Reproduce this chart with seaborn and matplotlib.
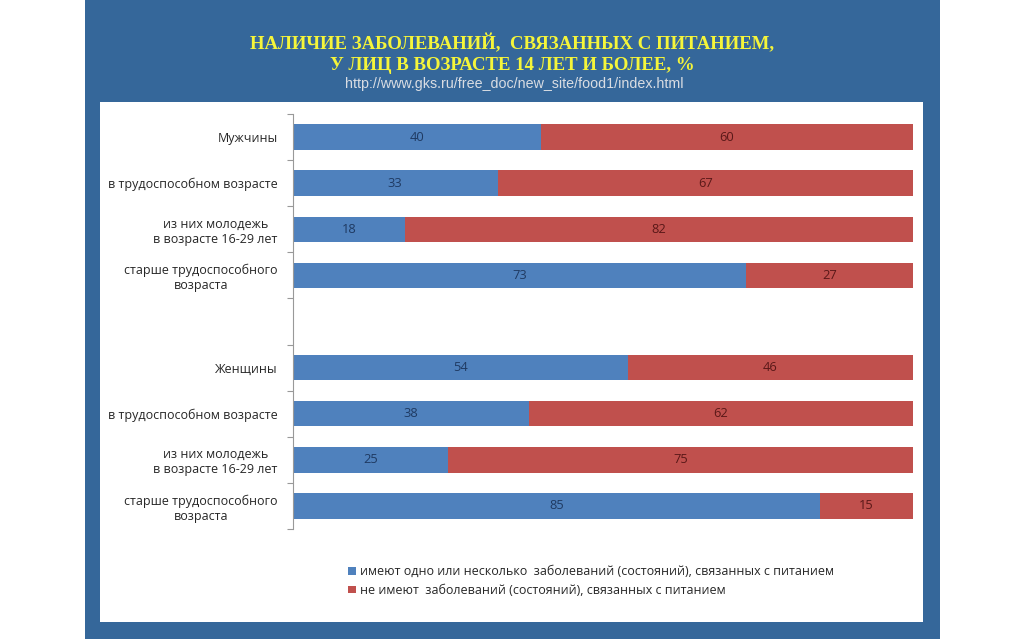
import numpy as np
import pandas as pd
import matplotlib.pyplot as plt
from matplotlib.patches import Rectangle, Patch
import seaborn as sns

# data
labels = ["Мужчины", "в трудоспособном возрасте", "из них молодежь\nв возрасте 16-29 лет",
          "старше трудоспособного\nвозраста", "",
          "Женщины", "в трудоспособном возрасте", "из них молодежь\nв возрасте 16-29 лет",
          "старше трудоспособного\nвозраста"]
have = [40, 33, 18, 73, np.nan, 54, 38, 25, 85]
have_not = [60, 67, 82, 27, np.nan, 46, 62, 75, 15]
legend_labels = ["имеют одно или несколько  заболеваний (состояний), связанных с питанием",
                 "не имеют  заболеваний (состояний), связанных с питанием"]
title = "НАЛИЧИЕ ЗАБОЛЕВАНИЙ,  СВЯЗАННЫХ С ПИТАНИЕМ,\nУ ЛИЦ В ВОЗРАСТЕ 14 ЛЕТ И БОЛЕЕ, %"
url = "http://www.gks.ru/free_doc/new_site/food1/index.html"

blue = "#4F81BD"
red = "#C0504D"
frame = "#35679A"

sns.set_style("white")
plt.rcParams['font.family'] = ['Open Sans', 'DejaVu Sans']

keys = ["k%d" % i for i in range(len(labels))]
df = pd.DataFrame({"key": keys, "have": have, "have_not": have_not})
df["total"] = df["have"] + df["have_not"]

W, H = 1024, 639
fig = plt.figure(figsize=(W / 100, H / 100), dpi=100)
fig.patch.set_facecolor("white")

# blue frame and white panel (pixel coords from top-left)
def px_rect(x0, y0, x1, y1, color):
    fig.add_artist(Rectangle((x0 / W, 1 - y1 / H), (x1 - x0) / W, (y1 - y0) / H,
                             transform=fig.transFigure, facecolor=color,
                             edgecolor="none", zorder=0))

px_rect(85, 0, 940, 639, frame)
px_rect(100, 102, 923, 622, "white")

fig.text(512 / W, 1 - 54 / H, title, ha="center", va="center", color="#F5F53A",
         fontsize=13.5, fontweight="bold", family=["Liberation Serif", "DejaVu Serif"],
         linespacing=1.35)
fig.text(514 / W, 1 - 84 / H, url, ha="center", va="center", color="#D9DDE3",
         fontsize=10.3, family=["Liberation Sans", "DejaVu Sans"])

ax = fig.add_axes([293 / W, 1 - 529 / H, (913 - 293) / W, (529 - 114) / H])
ax.set_facecolor("none")

sns.barplot(data=df, x="total", y="key", order=keys, color=red, width=0.55,
            orient="h", ax=ax, saturation=1, linewidth=0)
sns.barplot(data=df, x="have", y="key", order=keys, color=blue, width=0.55,
            orient="h", ax=ax, saturation=1, linewidth=0)

for i in range(len(keys)):
    if np.isnan(have[i]):
        continue
    ax.text(have[i] / 2, i, "%d" % have[i], ha="center", va="center",
            color="#1F3A62", fontsize=9.3)
    ax.text(have[i] + have_not[i] / 2, i, "%d" % have_not[i], ha="center",
            va="center", color="#5A1818", fontsize=9.3)

ax.set_xlim(0, 100)
ax.set_ylim(len(keys) - 0.5, -0.5)
ax.set_xlabel("")
ax.set_ylabel("")
ax.set_xticks([])
ax.set_yticks(range(len(keys)))
ax.set_yticklabels(labels, fontsize=9, color="#262626")
for t in ax.get_yticklabels():
    t.set_multialignment("center")
ax.set_yticks(np.arange(-0.5, len(keys), 1), minor=True)
ax.tick_params(axis="y", which="major", length=0, pad=11)
ax.tick_params(axis="y", which="minor", length=4, width=0.8, color="#999999",
               direction="out", left=True)
for s in ["top", "right", "bottom"]:
    ax.spines[s].set_visible(False)
ax.spines["left"].set_color("#999999")
ax.spines["left"].set_linewidth(0.8)

handles = [Patch(facecolor=blue, edgecolor="none"), Patch(facecolor=red, edgecolor="none")]
fig.legend(handles, legend_labels, loc="upper left", bbox_to_anchor=(337 / W, 1 - 554 / H),
           frameon=False, fontsize=9, handlelength=0.6, handleheight=0.6,
           handletextpad=0.35, labelspacing=0.45, labelcolor="#262626")

fig.savefig("out.png", dpi=100)
